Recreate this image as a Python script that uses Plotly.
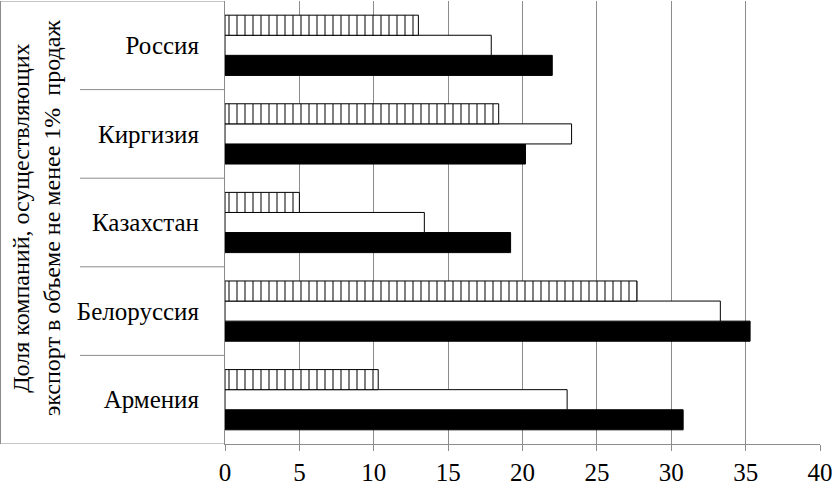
import plotly.graph_objects as go

countries = ["Армения", "Белоруссия", "Казахстан", "Киргизия", "Россия"]
series_black = [30.8, 35.3, 19.2, 20.2, 22.0]
series_white = [23.0, 33.3, 13.4, 23.3, 17.9]
series_striped = [10.3, 27.7, 5.0, 18.4, 13.0]
x_ticks = [0, 5, 10, 15, 20, 25, 30, 35, 40]
axis_title = "Доля компаний, осуществляющих<br>экспорт в объеме не менее 1%  продаж"

FONT = "Liberation Serif"
FS = 25
GRAY = "#8c8c8c"

fig = go.Figure()
fig.add_trace(go.Bar(
    y=countries, x=series_black, orientation="h", name="Ряд 1",
    marker=dict(color="black", line=dict(color="black", width=1)),
))
fig.add_trace(go.Bar(
    y=countries, x=series_white, orientation="h", name="Ряд 2",
    marker=dict(color="white", line=dict(color="black", width=1)),
))
fig.add_trace(go.Bar(
    y=countries, x=series_striped, orientation="h", name="Ряд 3",
    marker=dict(color="white", line=dict(color="black", width=1),
                pattern=dict(shape="|", fgcolor="black", bgcolor="white",
                             size=8, solidity=0.25)),
))

L, R, T, B = 225, 13, 1, 41
W, H = 833, 485
pw = W - L - R

def px_to_paper(px):
    return (px - L) / pw

shapes = []
for yb in [0.5, 1.5, 2.5, 3.5]:
    shapes.append(dict(type="line", xref="paper", yref="y",
                       x0=px_to_paper(80), x1=0, y0=yb, y1=yb,
                       line=dict(color=GRAY, width=1)))
for yb in [-0.5, 4.5]:
    shapes.append(dict(type="line", xref="paper", yref="y",
                       x0=px_to_paper(0.5), x1=0, y0=yb, y1=yb,
                       line=dict(color=GRAY, width=1)))
shapes.append(dict(type="line", xref="paper", yref="y",
                   x0=px_to_paper(0.5), x1=px_to_paper(0.5), y0=-0.5, y1=4.5,
                   line=dict(color=GRAY, width=1)))

fig.update_layout(
    width=W, height=H,
    margin=dict(l=L, r=R, t=T, b=B),
    paper_bgcolor="white", plot_bgcolor="white",
    barmode="group", bargap=0.32, bargroupgap=0,
    showlegend=False,
    font=dict(family=FONT, size=FS, color="black"),
    shapes=shapes,
    annotations=[dict(
        text=axis_title, textangle=-90, xref="paper", yref="paper",
        x=px_to_paper(36), y=0.51, xanchor="center", yanchor="middle",
        showarrow=False, font=dict(family=FONT, size=24, color="black"),
    )],
)
fig.update_xaxes(
    range=[0, 40], tickvals=x_ticks, showgrid=True, gridcolor=GRAY, gridwidth=1,
    showline=True, linecolor=GRAY, linewidth=1, ticks="outside", ticklen=6,
    tickcolor=GRAY, zeroline=False, tickfont=dict(family=FONT, size=FS),
    automargin=False,
)
fig.update_yaxes(
    range=[-0.5, 4.5], showgrid=False, showline=True, linecolor=GRAY, linewidth=1,
    ticks="", ticklabelstandoff=20, tickfont=dict(family=FONT, size=FS),
    automargin=False,
)

fig.write_html("out.html", config={"displayModeBar": False},
               post_script="document.body.style.margin='0';document.body.style.padding='0';")
